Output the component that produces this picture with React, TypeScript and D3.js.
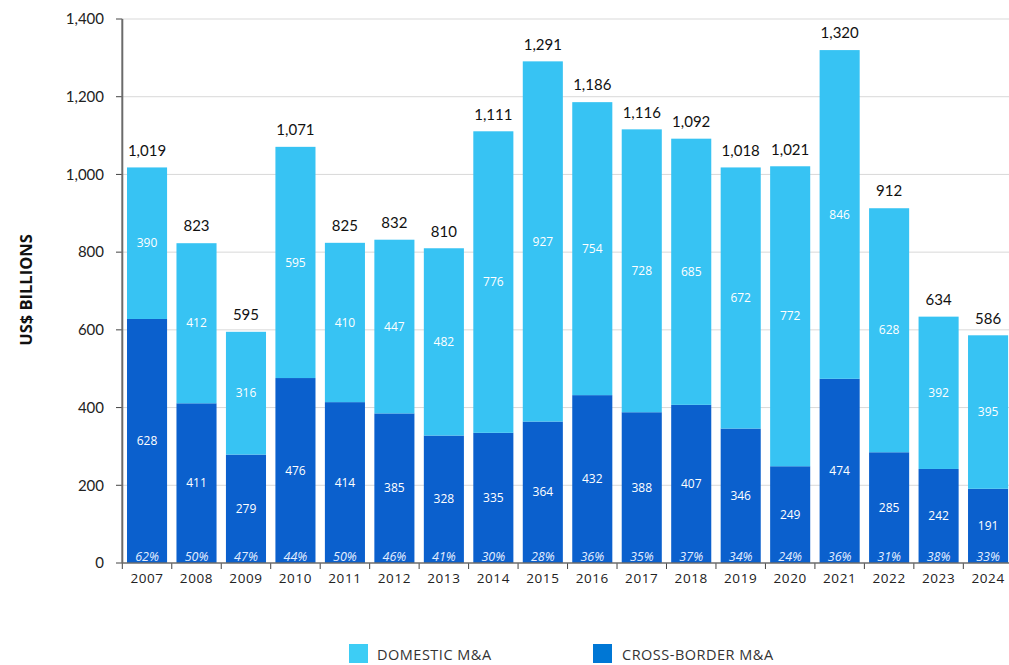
import React from "react";
import * as d3 from "d3";

const years = ["2007","2008","2009","2010","2011","2012","2013","2014","2015","2016","2017","2018","2019","2020","2021","2022","2023","2024"];
const crossBorder = [628,411,279,476,414,385,328,335,364,432,388,407,346,249,474,285,242,191];
const domestic = [390,412,316,595,410,447,482,776,927,754,728,685,672,772,846,628,392,395];
const totals = [1019,823,595,1071,825,832,810,1111,1291,1186,1116,1092,1018,1021,1320,912,634,586];
const crossPct = [62,50,47,44,50,46,41,30,28,36,35,37,34,24,36,31,38,33];
const yTicks = [0,200,400,600,800,1000,1200,1400];

const W = 1009, H = 665;
const left = 122.3, right = 1012.8, top = 19, bottom = 563;
const C_DOM = "#37C3F3";
const C_CB = "#0B60CD";

export default function App() {
  const x = d3.scaleBand<string>().domain(years).range([left, right]).paddingInner(0.19).paddingOuter(0.095);
  const y = d3.scaleLinear().domain([0, 1400]).range([bottom, top]);
  const fmt = d3.format(",");
  const bw = x.bandwidth();
  const step = x.step();
  return (
    <svg width={W} height={H} style={{ position: "absolute", left: 0, top: 0 }} fontFamily="Lato, 'Open Sans', sans-serif">
      {yTicks.map((t) => (
        <g key={t}>
          {t > 0 && <line x1={left} x2={W} y1={y(t)} y2={y(t)} stroke="#d9d9d9" strokeWidth={1} />}
          <line x1={116} x2={left} y1={y(t)} y2={y(t)} stroke="#444" strokeWidth={1} />
          <text x={104} y={y(t)} dy="0.35em" textAnchor="end" fontSize={15} fill="#222">{fmt(t)}</text>
        </g>
      ))}
      {years.map((yr, i) => {
        const x0 = x(yr)!;
        const cx = x0 + bw / 2;
        const cb = crossBorder[i];
        const dm = domestic[i];
        return (
          <g key={yr}>
            <rect x={x0} width={bw} y={y(cb)} height={y(0) - y(cb)} fill={C_CB} />
            <rect x={x0} width={bw} y={y(cb + dm)} height={y(cb) - y(cb + dm)} fill={C_DOM} />
            <text x={cx} y={(y(0) + y(cb)) / 2} dy="0.35em" textAnchor="middle" fontSize={12} fill="#fff" fontFamily="'Open Sans', sans-serif">{cb}</text>
            <text x={cx} y={(y(cb) + y(cb + dm)) / 2} dy="0.35em" textAnchor="middle" fontSize={12} fill="#fff" fontFamily="'Open Sans', sans-serif">{dm}</text>
            <text x={cx} y={y(cb + dm) - 17} dy="0.35em" textAnchor="middle" fontSize={15} fill="#111">{fmt(totals[i])}</text>
            <text x={cx} y={bottom - 6.5} dy="0.35em" textAnchor="middle" fontSize={12.5} fontStyle="italic" fill="#e3eeff" fontFamily="'Open Sans', sans-serif">{crossPct[i] + "%"}</text>
            <text x={cx} y={578} dy="0.35em" textAnchor="middle" fontSize={13.5} letterSpacing={0.6} fill="#222" fontFamily="'Open Sans', sans-serif">{yr}</text>
          </g>
        );
      })}
      {years.map((yr, i) => (
        <line key={"t" + yr} x1={left + i * step} x2={left + i * step} y1={bottom} y2={bottom + 6} stroke="#444" strokeWidth={1} />
      ))}
      <line x1={left} x2={W} y1={bottom} y2={bottom} stroke="#6b6b6b" strokeWidth={1.5} />
      <line x1={left} x2={left} y1={top} y2={bottom} stroke="#6b6b6b" strokeWidth={2} />
      <text transform="translate(26,290) rotate(-90)" textAnchor="middle" dy="0.35em" fontSize={16.5} fontWeight="bold" fill="#111" fontFamily="'Open Sans', sans-serif">US$ BILLIONS</text>
      <rect x={349} y={644} width={19} height={19} fill="#3DCDF5" />
      <text x={377} y={660} fontSize={14.5} letterSpacing={0.5} fill="#333" fontFamily="'Open Sans', sans-serif">DOMESTIC M&amp;A</text>
      <rect x={593} y={644} width={19} height={19} fill="#0077D5" />
      <text x={622} y={660} fontSize={14.5} letterSpacing={0.5} fill="#333" fontFamily="'Open Sans', sans-serif">CROSS-BORDER M&amp;A</text>
    </svg>
  );
}
